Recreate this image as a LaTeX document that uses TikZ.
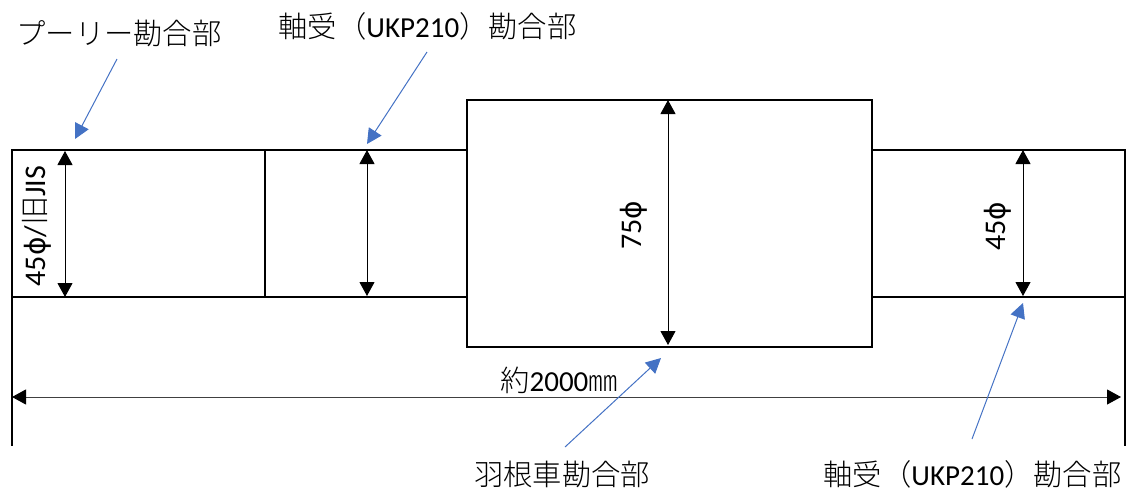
\documentclass[tikz,border=0pt]{standalone}
\usepackage{fontspec}
\setmainfont{Carlito}
\newfontfamily\cjk{Noto Sans CJK JP Light}
\newcommand{\JP}[1]{{\cjk\fontsize{29.3pt}{30pt}\selectfont #1}}
\newcommand{\PH}{{\fontspec{DejaVu Sans}\fontsize{28pt}{30pt}\selectfont ϕ}}
\usetikzlibrary{arrows.meta,positioning}
\definecolor{blueA}{HTML}{4472C4}
\tikzset{
  part/.style={draw=black,line width=2.8pt,minimum width=0pt,minimum height=0pt,inner sep=0pt,outer sep=0pt,anchor=north west},
  dimline/.style={draw=black,line width=1pt,{Triangle[length=14pt,width=15pt]}-{Triangle[length=14pt,width=15pt]}},
  extline/.style={draw=black,line width=2.8pt},
  callout/.style={draw=blueA,line width=1pt,-{Triangle[length=15pt,width=15pt]}},
  lbl/.style={inner sep=0pt,outer sep=0pt,font=\fontsize{29pt}{30pt}\selectfont,text=black},
  vlbl/.style={lbl,rotate=90,font=\fontsize{30pt}{30pt}\selectfont},
}
\begin{document}
\begin{tikzpicture}[x=1pt,y=-1pt]
\useasboundingbox (0,0) rectangle (1128,491);
% shaft sections
\node[part,minimum width=253pt,minimum height=147pt] (p1) at (12,150) {};
\node[part,minimum width=202pt,minimum height=147pt] (p2) at (265,150) {};
\node[part,fill=white,minimum width=405pt,minimum height=247pt] (p3) at (467,100) {};
\node[part,minimum width=253pt,minimum height=147pt] (p4) at (872,150) {};
% extension lines
\coordinate (eL) at (12,446);
\coordinate (eR) at (1125,446);
\draw[extline] (p1.south west) -- (eL);
\draw[extline] (p4.south east) -- (eR);
% dimension arrows
\coordinate (d1t) at (65,151); \coordinate (d1b) at (65,297);
\coordinate (d2t) at (367,150); \coordinate (d2b) at (367,296);
\coordinate (d3t) at (668,100); \coordinate (d3b) at (668,345);
\coordinate (d4t) at (1023,150); \coordinate (d4b) at (1023,296);
\coordinate (d5l) at (12,397); \coordinate (d5r) at (1121,397);
\draw[dimline] (d1t) -- (d1b);
\draw[dimline] (d2t) -- (d2b);
\draw[dimline] (d3t) -- (d3b);
\draw[dimline] (d4t) -- (d4b);
\draw[dimline,draw=black!75,{Triangle[length=14pt,width=15pt,color=black]}-{Triangle[length=14pt,width=15pt,color=black]}] (d5l) -- (d5r);
% labels
\node[lbl] (t1) at (119,33) {\JP{プーリー勘合部}};
\node[lbl] (t2) at (427.5,26) {\JP{軸受（}UKP210\JP{）勘合部}};
\node[lbl] (t3) at (562,474) {\JP{羽根車勘合部}};
\node[lbl] (t4) at (972.5,474) {\JP{軸受（}UKP210\JP{）勘合部}};
\node[vlbl] (v1) at (37,226) {45\PH/\JP{旧}JIS};
\node[vlbl] (v2) at (634,225) {75\PH};
\node[vlbl] (v3) at (998,226) {45\PH};
\node[lbl] (v4) at (559,380) {\JP{約}2000\JP{㎜}};
% callouts
\coordinate (c1s) at (117,59); \coordinate (c1e) at (75,139);
\coordinate (c2s) at (427,52); \coordinate (c2e) at (367,144);
\coordinate (c3s) at (565,447); \coordinate (c3e) at (661,358);
\coordinate (c4s) at (972,439); \coordinate (c4e) at (1023,303);
\draw[callout] (c1s) -- (c1e);
\draw[callout] (c2s) -- (c2e);
\draw[callout] (c3s) -- (c3e);
\draw[callout] (c4s) -- (c4e);
\end{tikzpicture}
\end{document}
